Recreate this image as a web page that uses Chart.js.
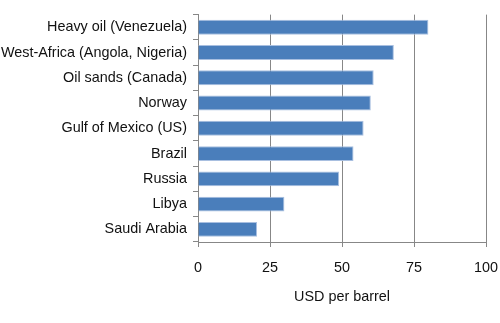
<!DOCTYPE html>
<html>
<head>
<meta charset="utf-8">
<script src="https://cdn.jsdelivr.net/npm/chart.js@4"></script>
<style>
  html, body { margin: 0; padding: 0; background: #fff; }
  #wrap { width: 500px; height: 323px; }
</style>
</head>
<body>
<div id="wrap"><canvas id="costChart"></canvas></div>
<script>
// ===== DATA =====
const regions = [
  "Heavy oil (Venezuela)",
  "West-Africa (Angola, Nigeria)",
  "Oil sands (Canada)",
  "Norway",
  "Gulf of Mexico (US)",
  "Brazil",
  "Russia",
  "Libya",
  "Saudi Arabia"
];
const costs = [80, 68, 61, 60, 57.5, 54, 49, 30, 20.5];
const xTicks = [0, 25, 50, 75, 100];

const gridGray = "#878787";
const labelFont = { family: "Liberation Sans", size: 14.4 };

// ===== BAR CHART =====
new Chart(document.getElementById("costChart"), {
  type: "bar",
  data: {
    labels: regions,
    datasets: [{
      data: costs,
      backgroundColor: "#4a7ebb",
      borderColor: "#a8bfe0",
      borderWidth: 1,
      categoryPercentage: 1,
      barPercentage: 0.59
    }]
  },
  options: {
    indexAxis: "y",
    responsive: true,
    maintainAspectRatio: false,
    animation: false,
    layout: { padding: { top: 13, right: 0, left: 0, bottom: 13 } },
    plugins: {
      legend: { display: false },
      tooltip: { enabled: false }
    },
    scales: {
      x: {
        min: 0,
        max: 100,
        afterBuildTicks: scale => {
          scale.ticks = xTicks.map(v => ({ value: v }));
        },
        afterFit: scale => {
          scale.height = 68;
          scale.paddingRight = 14;
        },
        grid: {
          color: gridGray,
          lineWidth: 1,
          tickLength: 5
        },
        border: { color: gridGray },
        ticks: {
          color: "#111",
          padding: 12,
          maxRotation: 0,
          font: labelFont
        },
        title: {
          display: true,
          text: "USD per barrel",
          color: "#111",
          padding: { top: 6 },
          font: labelFont
        }
      },
      y: {
        afterFit: scale => { scale.width = 198; },
        grid: {
          offset: true,
          drawOnChartArea: false,
          color: gridGray,
          tickLength: 5
        },
        border: { color: gridGray },
        ticks: {
          color: "#111",
          padding: 6,
          font: labelFont
        }
      }
    }
  }
});
</script>
</body>
</html>
